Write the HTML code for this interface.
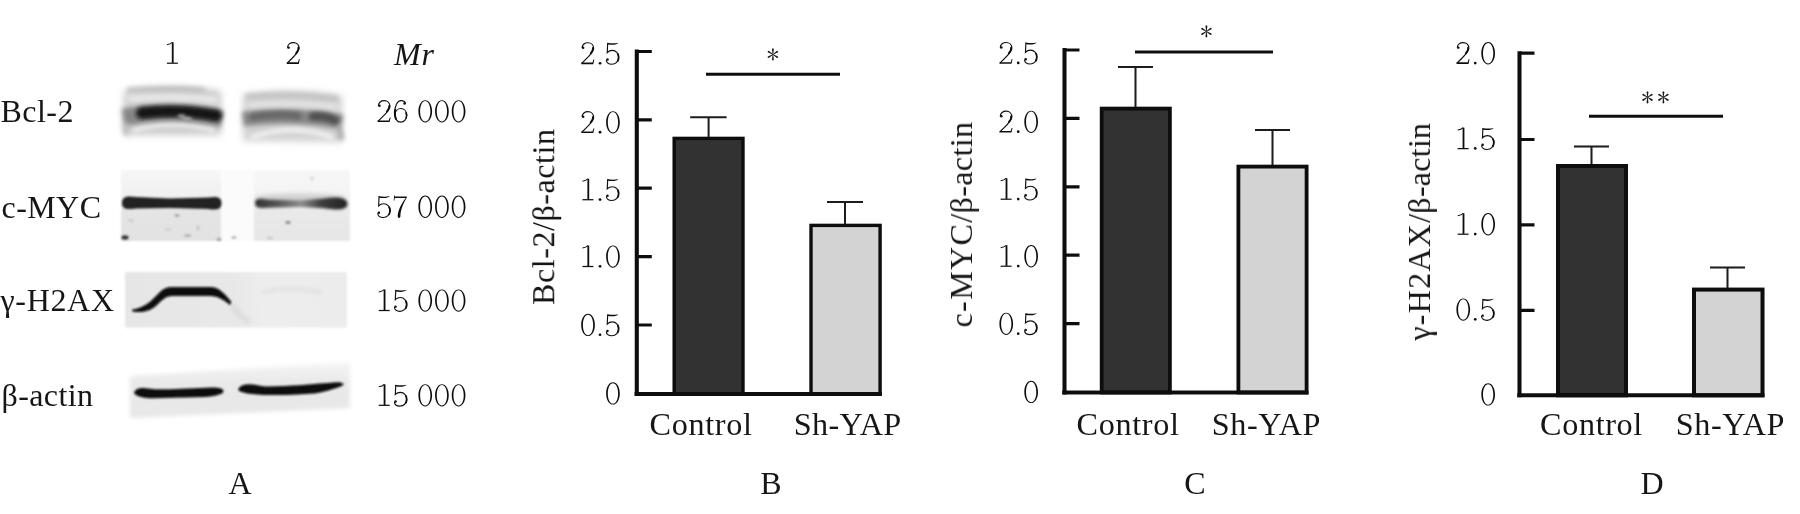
<!DOCTYPE html>
<html><head><meta charset="utf-8">
<style>
html,body{margin:0;padding:0;background:#fff;}
body{width:1800px;height:514px;overflow:hidden;}
svg{display:block;}
text{font-family:"Liberation Serif",serif;fill:#161616;}
.t{font-size:32px;}
.xl{font-size:32.2px;}
.ax{stroke:#111;stroke-width:4.1;fill:none;}
.tk{stroke:#111;stroke-width:3.2;fill:none;}
.eb{stroke:#1c1c1c;stroke-width:2;fill:none;}
.sig{stroke:#111;stroke-width:3;fill:none;}
.dk{fill:#333;stroke:#0a0a0a;stroke-width:3;}
.lt{fill:#d3d3d3;stroke:#0a0a0a;stroke-width:3;}
</style></head><body>
<svg width="1800" height="514" viewBox="0 0 1800 514">
<defs>
<filter id="soft" x="0" y="0" width="100%" height="100%" filterUnits="userSpaceOnUse"><feGaussianBlur stdDeviation="0.4"/></filter>
<filter id="b1" x="-20%" y="-50%" width="140%" height="200%"><feGaussianBlur stdDeviation="1.2"/></filter>
<filter id="b15" x="-20%" y="-80%" width="140%" height="260%"><feGaussianBlur stdDeviation="1.7"/></filter>
<filter id="b25" x="-20%" y="-60%" width="140%" height="220%"><feGaussianBlur stdDeviation="2.8"/></filter>
<filter id="b2" x="-20%" y="-50%" width="140%" height="200%"><feGaussianBlur stdDeviation="2.2"/></filter>
<filter id="b3" x="-20%" y="-50%" width="140%" height="200%"><feGaussianBlur stdDeviation="3.5"/></filter>
<linearGradient id="gm1" x1="0" y1="0" x2="0" y2="1"><stop offset="0" stop-color="#f6f6f6"/><stop offset="0.4" stop-color="#f0f0f0"/><stop offset="0.6" stop-color="#e4e4e4"/><stop offset="1" stop-color="#e2e2e2"/></linearGradient>
<linearGradient id="gm2" x1="0" y1="0" x2="0" y2="1"><stop offset="0" stop-color="#f7f7f7"/><stop offset="0.4" stop-color="#f3f3f3"/><stop offset="0.6" stop-color="#e9e9e9"/><stop offset="1" stop-color="#e6e6e6"/></linearGradient>
<linearGradient id="gb2" x1="0" y1="0" x2="1" y2="0"><stop offset="0" stop-color="#333"/><stop offset="0.22" stop-color="#505050"/><stop offset="0.5" stop-color="#8e8e8e"/><stop offset="0.72" stop-color="#3c3c3c"/><stop offset="1" stop-color="#222"/></linearGradient>
<linearGradient id="gg" x1="0" y1="0" x2="1" y2="0"><stop offset="0" stop-color="#e6e6e6"/><stop offset="0.5" stop-color="#e8e8e8"/><stop offset="0.62" stop-color="#ededed"/><stop offset="1" stop-color="#ececec"/></linearGradient>
<linearGradient id="ga" x1="0" y1="0" x2="0" y2="1"><stop offset="0" stop-color="#f6f6f6"/><stop offset="0.35" stop-color="#e9e9e9"/><stop offset="1" stop-color="#e7e7e7"/></linearGradient>

<g id="d0"><path fill-rule="evenodd" d="M36.5 0.5 C53 0.5 66.5 22 66.5 50 C66.5 78 53 99.5 36.5 99.5 C20 99.5 6.5 78 6.5 50 C6.5 22 20 0.5 36.5 0.5 Z M36.5 4.5 C24.5 4.5 14 22 14 50 C14 78 24.5 95.5 36.5 95.5 C48.5 95.5 59 78 59 50 C59 22 48.5 4.5 36.5 4.5 Z"/></g>
<g id="d1"><path d="M33.5 1 H41.5 V93 H33.5 Z"/><path d="M36 1 C30 8 22 11 12 12" fill="none" stroke="#111" stroke-width="4.4"/><path d="M12 91.5 H60 V97 H12 Z"/></g>
<g id="d2"><circle cx="15" cy="25" r="5.5"/><path d="M10.5 26 C10 10 23 2.5 36 2.5 C51 2.5 61 14 61 28 C61 46 38 64 9 94" fill="none" stroke="#111" stroke-width="5.2"/><path d="M58 22 C60 34 54 44 46 53" fill="none" stroke="#111" stroke-width="7.6"/><path d="M7 90.5 H56 L60 77 H64 L59.5 97.5 H7 Z"/></g>
<g id="d5"><path d="M12 2.5 C28 6 46 6 60 2.5 C56 9 46 11.5 34 11.5 C26 11.5 18 10.5 12 9 Z"/><path d="M13.5 4 L11.5 46 C18 39 26 36.5 34 36.5 C50 36.5 61 50 61 67 C61 86 48 98 32 98 C18 98 8 90 7.5 79" fill="none" stroke="#111" stroke-width="5"/><path d="M57 50 C62 60 62 76 56 86" fill="none" stroke="#111" stroke-width="7.6"/><circle cx="12.5" cy="77" r="5.5"/></g>
<g id="d6"><circle cx="52" cy="15" r="5.5"/><path d="M56.5 15 C53 6 45 2.5 37 2.5 C19 2.5 9 28 9 56 C9 84 21 98 36 98 C50 98 61 85 61 67 C61 49 50 37.5 36 37.5 C23 37.5 11 48 10 66" fill="none" stroke="#111" stroke-width="5"/><path d="M10.5 40 C8.5 55 10 76 16 86" fill="none" stroke="#111" stroke-width="8.2"/><path d="M58 54 C62 62 62 74 58 82" fill="none" stroke="#111" stroke-width="7.6"/></g>
<g id="d7"><path d="M6.5 0 H10 L9.5 4 H62 V9 C48 32 35 62 34 88 C34 96 32 99.5 28 99.5 C24 99.5 21.5 96 22 89 C24 62 40 34 57 11 H9 L7.5 22 H4.5 Z"/></g>
<g id="ast"><path id="arm" d="M-0.28 0 L-0.95 -5.4 Q0 -6.9 0.95 -5.4 L0.28 0 Z"/><use href="#arm" transform="rotate(58)"/><use href="#arm" transform="rotate(122)"/><use href="#arm" transform="rotate(180)"/><use href="#arm" transform="rotate(238)"/><use href="#arm" transform="rotate(302)"/></g>
<g id="dp"><circle cx="16" cy="93.5" r="6"/></g>

</defs>
<rect width="1800" height="514" fill="#fff"/>
<g filter="url(#soft)">
<g id="A">
<g fill="#111"><use href="#d1" transform="translate(164.16,42.00) scale(0.2285,0.225)"/></g>
<g fill="#111"><use href="#d2" transform="translate(285.16,42.00) scale(0.2285,0.225)"/></g>
<text class="t" x="394" y="64.5" font-style="italic" textLength="40">Mr</text>
<text class="t" x="0.5" y="122" textLength="73">Bcl-2</text>
<text class="t" x="1.5" y="217.5" textLength="99.5">c-MYC</text>
<text class="t" x="0.5" y="311" textLength="113.5">γ-H2AX</text>
<text class="t" x="1.5" y="406" textLength="91.5">β-actin</text>
<g fill="#111"><use href="#d2" transform="translate(376.00,100.10) scale(0.2285,0.225)"/><use href="#d6" transform="translate(392.68,100.10) scale(0.2285,0.225)"/><use href="#d0" transform="translate(416.90,100.10) scale(0.2285,0.225)"/><use href="#d0" transform="translate(433.58,100.10) scale(0.2285,0.225)"/><use href="#d0" transform="translate(450.26,100.10) scale(0.2285,0.225)"/></g>
<g fill="#111"><use href="#d5" transform="translate(376.00,195.50) scale(0.2285,0.225)"/><use href="#d7" transform="translate(392.68,195.50) scale(0.2285,0.225)"/><use href="#d0" transform="translate(416.90,195.50) scale(0.2285,0.225)"/><use href="#d0" transform="translate(433.58,195.50) scale(0.2285,0.225)"/><use href="#d0" transform="translate(450.26,195.50) scale(0.2285,0.225)"/></g>
<g fill="#111"><use href="#d1" transform="translate(376.00,289.30) scale(0.2285,0.225)"/><use href="#d5" transform="translate(392.68,289.30) scale(0.2285,0.225)"/><use href="#d0" transform="translate(416.90,289.30) scale(0.2285,0.225)"/><use href="#d0" transform="translate(433.58,289.30) scale(0.2285,0.225)"/><use href="#d0" transform="translate(450.26,289.30) scale(0.2285,0.225)"/></g>
<g fill="#111"><use href="#d1" transform="translate(376.00,384.10) scale(0.2285,0.225)"/><use href="#d5" transform="translate(392.68,384.10) scale(0.2285,0.225)"/><use href="#d0" transform="translate(416.90,384.10) scale(0.2285,0.225)"/><use href="#d0" transform="translate(433.58,384.10) scale(0.2285,0.225)"/><use href="#d0" transform="translate(450.26,384.10) scale(0.2285,0.225)"/></g>
<text class="t" x="240" y="494" text-anchor="middle">A</text>
<!-- Bcl-2 blot -->
<g filter="url(#b3)">
<path d="M124 135 V91 Q172 83 221 91 V135 Z" fill="#cbcbcb"/>
<path d="M243 141 V95 Q292 86 342 96 V142 Z" fill="#d2d2d2"/>
</g>
<g filter="url(#b25)">
<path d="M128 99 Q172 95 218 100" stroke="#e9e9e9" stroke-width="7" fill="none"/>
<path d="M248 105 Q292 101 338 107" stroke="#e6e6e6" stroke-width="5" fill="none"/>
<path d="M127 90 Q172 87.5 205 90" stroke="#b0b0b0" stroke-width="3.5" fill="none"/>
<path d="M246 97 Q292 93 338 99" stroke="#c2c2c2" stroke-width="6" fill="none"/>
<path d="M123 117 Q172 110 222 119" stroke="#868686" stroke-width="17" fill="none"/>
<path d="M243 119 Q292 113 342 122" stroke="#858585" stroke-width="14.5" fill="none"/>
<path d="M336 122 Q341 130 341 140" stroke="#a4a4a4" stroke-width="5" fill="none"/>
<path d="M125 122 Q125 130 127 135" stroke="#b4b4b4" stroke-width="4" fill="none"/>
</g>
<g filter="url(#b2)">
<path d="M142 113 Q176 108.5 216 115.5" stroke="#121212" stroke-width="12" fill="none" stroke-linecap="round"/>
<path d="M253 117 Q278 113 298 116" stroke="#666" stroke-width="7" fill="none" stroke-linecap="round"/>
<path d="M313 116.5 Q326 115.5 335 120.5" stroke="#505050" stroke-width="8.5" fill="none" stroke-linecap="round"/>
<path d="M133 130.5 Q172 119.5 215 130.5" stroke="#f6f6f6" stroke-width="3.6" fill="none"/>
<path d="M251 137.5 Q292 122.5 333 137.5" stroke="#f6f6f6" stroke-width="4" fill="none"/>
</g>
<g filter="url(#b15)"><ellipse cx="181.5" cy="116.5" rx="4" ry="2.6" fill="#8c8c8c"/><ellipse cx="187" cy="119" rx="5" ry="2.2" fill="#a0a0a0"/></g>

<!-- c-MYC blot -->
<g filter="url(#b1)">
<rect x="121" y="170" width="100" height="71" fill="url(#gm1)"/>
<rect x="221" y="170" width="33" height="71" fill="#fbfbfb"/>
<rect x="254" y="170" width="96" height="71" fill="url(#gm2)"/>
</g>
<g filter="url(#b2)">
<ellipse cx="300" cy="198" rx="46" ry="4.5" fill="#d2d2d2"/>
</g>
<g filter="url(#b1)">
<path d="M122 203 C122 196 128 196 136 197 L170 198.5 L208 197.5 C215 196.5 221.5 196 221.5 203 C221.5 210.5 215 210 208 209 L170 208 L136 208.5 C128 209.5 122 210 122 203 Z" fill="#242424"/>
</g>
<g filter="url(#b15)">
<path d="M255 203 C255 198 260 198.5 268 199.5 L300 200.3 L324 198.5 C334 197 347.5 196.5 347.5 204 C347.5 211 334 210 324 208.3 L300 207 L268 207.8 C260 208.5 255 208 255 203 Z" fill="url(#gb2)"/>
</g>
<g filter="url(#b1)" fill="#777">
<ellipse cx="125" cy="237.5" rx="3.5" ry="2.2" fill="#333"/>
<ellipse cx="177" cy="215.5" rx="2.5" ry="1.3" fill="#999"/>
<ellipse cx="288" cy="222.5" rx="2.8" ry="1.4" fill="#888"/>
<ellipse cx="198" cy="228" rx="1.5" ry="2.5" fill="#c4c4c4"/>
<ellipse cx="187.5" cy="235.5" rx="3.5" ry="1.5" fill="#b4b4b4"/>
<ellipse cx="234" cy="237.5" rx="2.5" ry="1.3" fill="#aaa"/>
<ellipse cx="312" cy="178.5" rx="2" ry="1.2" fill="#ccc"/>
<ellipse cx="219" cy="239.5" rx="2.5" ry="1.2" fill="#999"/>
<ellipse cx="270" cy="238" rx="3" ry="1.3" fill="#c4c4c4"/>
<ellipse cx="131" cy="220.5" rx="3" ry="1.2" fill="#c8c8c8"/>
<ellipse cx="168" cy="229" rx="3" ry="1.5" fill="#d0d0d0"/>
</g>

<!-- gamma-H2AX blot -->
<g filter="url(#b1)">
<rect x="125" y="272" width="222" height="55.5" fill="url(#gg)"/>
</g>
<g filter="url(#b2)">
<path d="M262 293 Q290 284 322 293" stroke="#dadada" stroke-width="2.5" fill="none"/>
<path d="M232 305 Q240 318 250 322" stroke="#dcdcdc" stroke-width="6" fill="none"/>
</g>
<g filter="url(#b1)">
<path d="M132 309.5 C145 308 152 300 158 294 C162 289.5 166 287 172 287 L210 287 C219 287 224 293 231.5 302 L230 305 C224 300 218 296 210 296 L172 296 C166 296 162 300 157 305 C150 311.5 142 313 132.5 311.5 Z" fill="#0a0a0a"/>
</g>

<!-- beta-actin blot -->
<g filter="url(#b2)">
<path d="M130 376 L350 362 L350 408 L130 418 Z" fill="url(#ga)"/>
</g>
<g filter="url(#b1)">
<path d="M134 392.5 C136 388 141 387.5 146 388.2 C155 389.5 163 389.5 170 389.2 L212 387.6 C219 387.6 223.5 388.5 223.5 391.5 C223.5 394.5 214 396.2 205 397 L152.5 398.3 C146 398.3 135 397 134 392.5 Z" fill="#0c0c0c"/>
<path d="M238.4 388.8 C240 385 246 384 250.6 384.2 C257 384.6 260 386.3 266.4 386.4 C290 386.3 315 384 336.4 382.3 C341 382 344 383.5 343.8 384.6 C340 387.5 334 389 327.7 390.7 C322 392.3 316 393.4 310.2 393.8 C296 395 280 395.3 266.4 395 C258 394.8 250 394.2 245.4 393 C241 392 237.5 391 238.4 388.8 Z" fill="#0c0c0c"/>
</g>

</g>
<g id="B"><rect class="dk" style="stroke-width:3.4" x="674.2" y="138.39999999999998" width="68.80000000000004" height="255.60000000000002"/>
<rect class="lt" style="stroke-width:3.4" x="811.0" y="225.39999999999998" width="69.1" height="168.60000000000002"/>
<path d="M636.8 49.5 V396" class="ax"/>
<path d="M634.5999999999999 394 H881.8" class="ax" style="stroke-width:4"/>
<path d="M636.8 51.5 H651.8 M636.8 119.8 H651.8 M636.8 188.2 H651.8 M636.8 256.6 H651.8 M636.8 325 H651.8 " class="tk"/>
<path d="M708.6 137 V117.3 M690.2 117.3 H726.6 M845 224 V202 M827 202 H863 " class="eb"/>
<path d="M706 74.2 H840" class="sig"/>
<use href="#ast" fill="#1a1a1a" transform="translate(772.9,54.4)"/>
<g fill="#111"><use href="#d2" transform="translate(579.71,42.20) scale(0.2285,0.225)"/><use href="#dp" transform="translate(596.39,42.20) scale(0.2285,0.225)"/><use href="#d5" transform="translate(604.62,42.20) scale(0.2285,0.225)"/></g>
<g fill="#111"><use href="#d2" transform="translate(579.71,111.10) scale(0.2285,0.225)"/><use href="#dp" transform="translate(596.39,111.10) scale(0.2285,0.225)"/><use href="#d0" transform="translate(604.62,111.10) scale(0.2285,0.225)"/></g>
<g fill="#111"><use href="#d1" transform="translate(579.71,178.50) scale(0.2285,0.225)"/><use href="#dp" transform="translate(596.39,178.50) scale(0.2285,0.225)"/><use href="#d5" transform="translate(604.62,178.50) scale(0.2285,0.225)"/></g>
<g fill="#111"><use href="#d1" transform="translate(579.71,245.30) scale(0.2285,0.225)"/><use href="#dp" transform="translate(596.39,245.30) scale(0.2285,0.225)"/><use href="#d0" transform="translate(604.62,245.30) scale(0.2285,0.225)"/></g>
<g fill="#111"><use href="#d0" transform="translate(579.71,313.70) scale(0.2285,0.225)"/><use href="#dp" transform="translate(596.39,313.70) scale(0.2285,0.225)"/><use href="#d5" transform="translate(604.62,313.70) scale(0.2285,0.225)"/></g>
<g fill="#111"><use href="#d0" transform="translate(604.62,382.20) scale(0.2285,0.225)"/></g>
<text class="t xl" x="649.6" y="434.5" textLength="102.3">Control</text>
<text class="t xl" x="793.8" y="434.5" textLength="107.4">Sh-YAP</text>
<text class="t" x="771" y="494" text-anchor="middle">B</text>
<text class="t" transform="translate(554.2,217) rotate(-90)" text-anchor="middle" textLength="176">Bcl-2/β-actin</text></g>
<g id="C"><rect class="dk" style="stroke-width:3.8" x="1101.7" y="108.60000000000001" width="68.2" height="283.90000000000003"/>
<rect class="lt" style="stroke-width:3.8" x="1238.4" y="166.6" width="68.2" height="225.9"/>
<path d="M1064.5 48 V394.5" class="ax"/>
<path d="M1062.3 392.5 H1308.5" class="ax" style="stroke-width:4"/>
<path d="M1064.5 50 H1079.5 M1064.5 118.4 H1079.5 M1064.5 186.8 H1079.5 M1064.5 255.2 H1079.5 M1064.5 323.6 H1079.5 " class="tk"/>
<path d="M1135.5 107 V67 M1118 67 H1153 M1272.5 165 V130 M1255 130 H1290 " class="eb"/>
<path d="M1135 52 H1273" class="sig"/>
<use href="#ast" fill="#1a1a1a" transform="translate(1206.4,31.4)"/>
<g fill="#111"><use href="#d2" transform="translate(997.91,41.90) scale(0.2285,0.225)"/><use href="#dp" transform="translate(1014.59,41.90) scale(0.2285,0.225)"/><use href="#d5" transform="translate(1022.82,41.90) scale(0.2285,0.225)"/></g>
<g fill="#111"><use href="#d2" transform="translate(997.91,110.60) scale(0.2285,0.225)"/><use href="#dp" transform="translate(1014.59,110.60) scale(0.2285,0.225)"/><use href="#d0" transform="translate(1022.82,110.60) scale(0.2285,0.225)"/></g>
<g fill="#111"><use href="#d1" transform="translate(997.91,178.00) scale(0.2285,0.225)"/><use href="#dp" transform="translate(1014.59,178.00) scale(0.2285,0.225)"/><use href="#d5" transform="translate(1022.82,178.00) scale(0.2285,0.225)"/></g>
<g fill="#111"><use href="#d1" transform="translate(997.91,245.00) scale(0.2285,0.225)"/><use href="#dp" transform="translate(1014.59,245.00) scale(0.2285,0.225)"/><use href="#d0" transform="translate(1022.82,245.00) scale(0.2285,0.225)"/></g>
<g fill="#111"><use href="#d0" transform="translate(997.91,312.60) scale(0.2285,0.225)"/><use href="#dp" transform="translate(1014.59,312.60) scale(0.2285,0.225)"/><use href="#d5" transform="translate(1022.82,312.60) scale(0.2285,0.225)"/></g>
<g fill="#111"><use href="#d0" transform="translate(1022.82,380.70) scale(0.2285,0.225)"/></g>
<text class="t xl" x="1076.5" y="434.5" textLength="102.5">Control</text>
<text class="t xl" x="1211.8" y="434.5" textLength="108.6">Sh-YAP</text>
<text class="t" x="1195" y="494" text-anchor="middle">C</text>
<text class="t" transform="translate(972,224.7) rotate(-90)" text-anchor="middle" textLength="205.5"><tspan letter-spacing="1">c-MYC</tspan>/β-actin</text></g>
<g id="D"><rect class="dk" style="stroke-width:4" x="1558.0" y="166.0" width="68" height="229.3"/>
<rect class="lt" style="stroke-width:4" x="1694.0" y="289.6" width="68.5" height="105.69999999999999"/>
<path d="M1519.5 51.2 V397.3" class="ax"/>
<path d="M1517.3 395.3 H1764.5" class="ax" style="stroke-width:4"/>
<path d="M1519.5 53.2 H1534.5 M1519.5 139.5 H1534.5 M1519.5 224.8 H1534.5 M1519.5 310.3 H1534.5 " class="tk"/>
<path d="M1591.5 164 V146.5 M1574 146.5 H1609 M1727.5 288 V267.5 M1710 267.5 H1745 " class="eb"/>
<path d="M1589 116.2 H1723" class="sig"/>
<use href="#ast" fill="#1a1a1a" transform="translate(1647.5,97.3)"/>
<use href="#ast" fill="#1a1a1a" transform="translate(1663.4,97.3)"/>
<g fill="#111"><use href="#d2" transform="translate(1454.91,42.00) scale(0.2285,0.225)"/><use href="#dp" transform="translate(1471.59,42.00) scale(0.2285,0.225)"/><use href="#d0" transform="translate(1479.82,42.00) scale(0.2285,0.225)"/></g>
<g fill="#111"><use href="#d1" transform="translate(1454.91,127.40) scale(0.2285,0.225)"/><use href="#dp" transform="translate(1471.59,127.40) scale(0.2285,0.225)"/><use href="#d5" transform="translate(1479.82,127.40) scale(0.2285,0.225)"/></g>
<g fill="#111"><use href="#d1" transform="translate(1454.91,213.00) scale(0.2285,0.225)"/><use href="#dp" transform="translate(1471.59,213.00) scale(0.2285,0.225)"/><use href="#d0" transform="translate(1479.82,213.00) scale(0.2285,0.225)"/></g>
<g fill="#111"><use href="#d0" transform="translate(1454.91,298.30) scale(0.2285,0.225)"/><use href="#dp" transform="translate(1471.59,298.30) scale(0.2285,0.225)"/><use href="#d5" transform="translate(1479.82,298.30) scale(0.2285,0.225)"/></g>
<g fill="#111"><use href="#d0" transform="translate(1479.82,383.20) scale(0.2285,0.225)"/></g>
<text class="t xl" x="1540" y="434.5" textLength="102.3">Control</text>
<text class="t xl" x="1675.8" y="434.5" textLength="108.6">Sh-YAP</text>
<text class="t" x="1652" y="494" text-anchor="middle">D</text>
<text class="t" transform="translate(1430,231.8) rotate(-90)" text-anchor="middle" textLength="217.6"><tspan letter-spacing="1">γ-H2AX</tspan>/β-actin</text></g>
</g>
</svg>
</body></html>
